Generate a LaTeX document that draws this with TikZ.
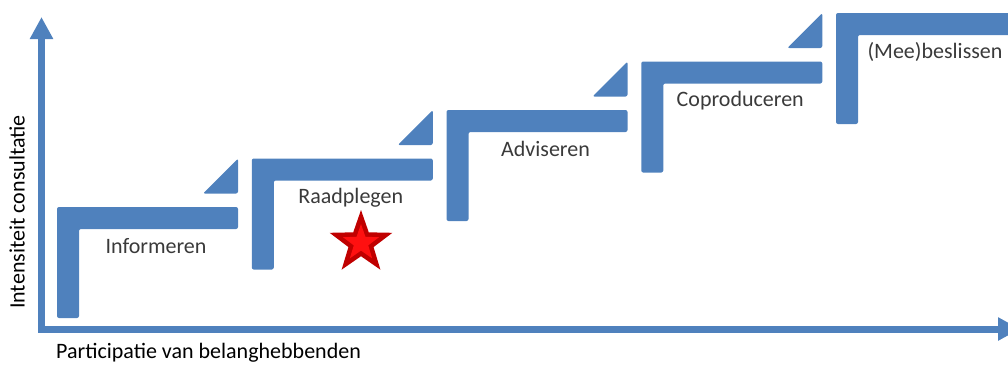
\documentclass[tikz,border=0pt]{standalone}
\usepackage{fontspec}
\setmainfont{Carlito}
\usetikzlibrary{arrows.meta,shapes.geometric}
\definecolor{stepblue}{HTML}{4F81BD}
\definecolor{labelgray}{HTML}{3A3A3A}
\definecolor{stardark}{HTML}{C00000}
\definecolor{starlight}{HTML}{FF1010}
\begin{document}
\begin{tikzpicture}[x=1pt,y=-1pt,
  stepshape/.style={fill=stepblue, rounded corners=2pt},
  steplabel/.style={font=\fontsize{22}{26}\selectfont, text=labelgray, inner sep=0pt},
  axislabel/.style={font=\fontsize{22}{26}\selectfont, text=black, inner sep=0pt},
  axisline/.style={draw=stepblue, line width=7pt, miter limit=10,
    {Triangle[width=22pt,length=22pt]}-{Triangle[width=22pt,length=22pt]}},
  starshape/.style={star, star points=5, star point ratio=2.5, inner sep=0pt, draw=none}
]
\useasboundingbox (0,0) rectangle (1008,365);
\clip (0,0) rectangle (1008,365);

% axes
\coordinate (O) at (41.5,329);
\coordinate (ytip) at (41.5,17);
\coordinate (xtip) at (1020,329);
\draw[axisline] (ytip) -- (O) -- (xtip);

\node[axislabel, anchor=west] (xlab) at (56,353) {Participatie van belanghebbenden};
\node[axislabel, rotate=90] (ylab) at (17,212) {Intensiteit consultatie};

% steps
\foreach \i/\lab in {0/Informeren,1/Raadplegen,2/Adviseren,3/Coproduceren,4/{(Mee)beslissen}} {
  \pgfmathsetmacro{\X}{57+194.75*\i}
  \pgfmathsetmacro{\T}{207-48.5*\i}
  \pgfmathsetmacro{\R}{\i==4 ? 1030 : \X+181}
  \fill[stepshape] (\X,\T) -- (\R,\T) -- (\R,\T+22) -- (\X+22,\T+22)
     -- (\X+22,\T+111) -- (\X,\T+111) -- cycle;
  \node[steplabel] (lab\i) at (\X+99,\T+39) {\lab};
  \ifnum\i<4
    \fill[stepshape] (\X+146,\T-13.5) -- (\X+181,\T-13.5) -- (\X+181,\T-48.5) -- cycle;
  \fi
}

% star
\node[starshape, minimum size=66pt, fill=stardark] (star) at (361,243) {};
\node[starshape, minimum size=38pt, fill=starlight] (starin) at (star.center) {};
\end{tikzpicture}
\end{document}
